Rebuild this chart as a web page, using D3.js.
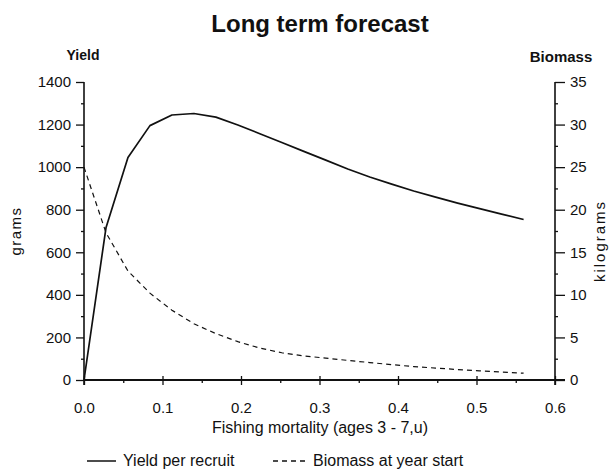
<!DOCTYPE html>
<html>
<head>
<meta charset="utf-8">
<script src="https://cdn.jsdelivr.net/npm/d3@7"></script>
<style>
  html, body { margin: 0; padding: 0; background: #fff; }
  svg { display: block; font-family: "Liberation Sans", Arial, Helvetica, sans-serif; }
  .axis text { font-size: 15px; fill: #111; }
  .axis line { stroke: #111; stroke-width: 1.3; }
</style>
</head>
<body>
<svg id="chart" width="611" height="470"></svg>
<script>
// Fishing mortality steps (ages 3 - 7, unweighted)
const fishingMortality = [0, 0.028, 0.056, 0.084, 0.112, 0.14, 0.168, 0.196, 0.224, 0.252, 0.28,
  0.308, 0.336, 0.364, 0.392, 0.42, 0.448, 0.476, 0.504, 0.532, 0.56];
// Yield per recruit, grams
const yieldPerRecruit = [0, 715, 1045, 1195, 1245, 1252, 1235, 1198, 1157, 1116, 1074,
  1033, 991, 954, 920, 888, 859, 831, 805, 779, 754];
// Biomass at year start, kilograms
const biomassAtStart = [25.0, 17.3, 12.8, 10.2, 8.2, 6.6, 5.45, 4.5, 3.75, 3.2, 2.83,
  2.57, 2.3, 2.05, 1.8, 1.58, 1.4, 1.23, 1.08, 0.94, 0.8];

const fTicks = [0, 0.1, 0.2, 0.3, 0.4, 0.5, 0.6];
const fMinorTicks = [0.05, 0.15, 0.25, 0.35, 0.45, 0.55];
const yieldTicks = [0, 200, 400, 600, 800, 1000, 1200, 1400];
const yieldMinorTicks = [100, 300, 500, 700, 900, 1100, 1300];
const biomassTicks = [0, 5, 10, 15, 20, 25, 30, 35];
const biomassMinorTicks = [2.5, 7.5, 12.5, 17.5, 22.5, 27.5, 32.5];

const svg = d3.select("#chart");
const ink = "#111";

const x = d3.scaleLinear().domain([0, 0.6]).range([84, 555]);
const yL = d3.scaleLinear().domain([0, 1400]).range([380, 82]);
const yR = d3.scaleLinear().domain([0, 35]).range([380, 82]);

// Title
svg.append("text")
  .attr("x", 320).attr("y", 32)
  .attr("text-anchor", "middle")
  .attr("font-size", 24).attr("font-weight", "bold").attr("fill", ink)
  .text("Long term forecast");

// Axis headers
svg.append("text").attr("x", 83).attr("y", 60).attr("text-anchor", "middle")
  .attr("font-size", 14).attr("font-weight", "bold").attr("fill", ink).text("Yield");
svg.append("text").attr("x", 561).attr("y", 62).attr("text-anchor", "middle")
  .attr("font-size", 15).attr("font-weight", "bold").attr("fill", ink).text("Biomass");

// Unit labels
svg.append("text")
  .attr("transform", "translate(21,231) rotate(-90)")
  .attr("text-anchor", "middle").attr("font-size", 15).attr("letter-spacing", 1.5)
  .attr("fill", ink).text("grams");
svg.append("text")
  .attr("transform", "translate(605,241) rotate(-90)")
  .attr("text-anchor", "middle").attr("font-size", 15).attr("letter-spacing", 2)
  .attr("fill", ink).text("kilograms");

// Left axis
const left = svg.append("g").attr("class", "axis").attr("transform", "translate(84,0)");
left.call(d3.axisLeft(yL).tickValues(yieldTicks).tickFormat(d3.format("d"))
  .tickSize(8).tickSizeOuter(0).tickPadding(5));
left.append("g").call(d3.axisLeft(yL).tickValues(yieldMinorTicks).tickFormat("")
  .tickSize(3).tickSizeOuter(0));

// Right axis
const right = svg.append("g").attr("class", "axis").attr("transform", "translate(555,0)");
right.call(d3.axisRight(yR).tickValues(biomassTicks).tickFormat(d3.format("d"))
  .tickSize(10).tickSizeOuter(0).tickPadding(5));
right.append("g").call(d3.axisRight(yR).tickValues(biomassMinorTicks).tickFormat("")
  .tickSize(3).tickSizeOuter(0));

// Bottom axis
const bottom = svg.append("g").attr("class", "axis").attr("transform", "translate(0,380)");
bottom.call(d3.axisBottom(x).tickValues(fTicks).tickFormat(d3.format(".1f"))
  .tickSize(5).tickSizeOuter(0).tickPadding(17));
bottom.selectAll(".tick line").attr("y1", -4);
bottom.append("g").call(d3.axisBottom(x).tickValues(fMinorTicks).tickFormat("")
  .tickSize(3).tickSizeOuter(0));

svg.selectAll(".axis .domain").remove();

// Axis lines
svg.append("line").attr("x1", x(0)).attr("x2", x(0)).attr("y1", yL(1400)).attr("y2", yL(0) + 5)
  .attr("stroke", ink).attr("stroke-width", 1.6);
svg.append("line").attr("x1", x(0.6)).attr("x2", x(0.6)).attr("y1", yR(35)).attr("y2", yR(0) + 5)
  .attr("stroke", ink).attr("stroke-width", 1.6);
svg.append("line").attr("x1", x(0)).attr("x2", x(0.6) + 10).attr("y1", yL(0)).attr("y2", yL(0))
  .attr("stroke", ink).attr("stroke-width", 1.8);

// X axis title
svg.append("text")
  .attr("x", 320).attr("y", 433).attr("text-anchor", "middle")
  .attr("font-size", 16).attr("fill", ink)
  .text("Fishing mortality (ages 3 - 7,u)");

// Series
const yieldLine = d3.line()
  .x((d, i) => x(fishingMortality[i]))
  .y(d => yL(d));
const biomassLine = d3.line()
  .x((d, i) => x(fishingMortality[i]))
  .y(d => yR(d));

svg.append("path").datum(biomassAtStart)
  .attr("d", biomassLine)
  .attr("fill", "none").attr("stroke", ink).attr("stroke-width", 1.2)
  .attr("stroke-dasharray", "5,4");

svg.append("path").datum(yieldPerRecruit)
  .attr("d", yieldLine)
  .attr("fill", "none").attr("stroke", ink).attr("stroke-width", 1.7)
  .attr("stroke-linejoin", "round");

// Legend
const legend = svg.append("g");
legend.append("line").attr("x1", 87).attr("x2", 116).attr("y1", 461).attr("y2", 461)
  .attr("stroke", ink).attr("stroke-width", 1.5);
legend.append("text").attr("x", 123).attr("y", 466)
  .attr("font-size", 16).attr("fill", ink).text("Yield per recruit");
legend.append("line").attr("x1", 273).attr("x2", 309).attr("y1", 461).attr("y2", 461)
  .attr("stroke", ink).attr("stroke-width", 1.3).attr("stroke-dasharray", "5,4");
legend.append("text").attr("x", 313).attr("y", 466)
  .attr("font-size", 16).attr("fill", ink).text("Biomass at year start");
</script>
</body>
</html>
